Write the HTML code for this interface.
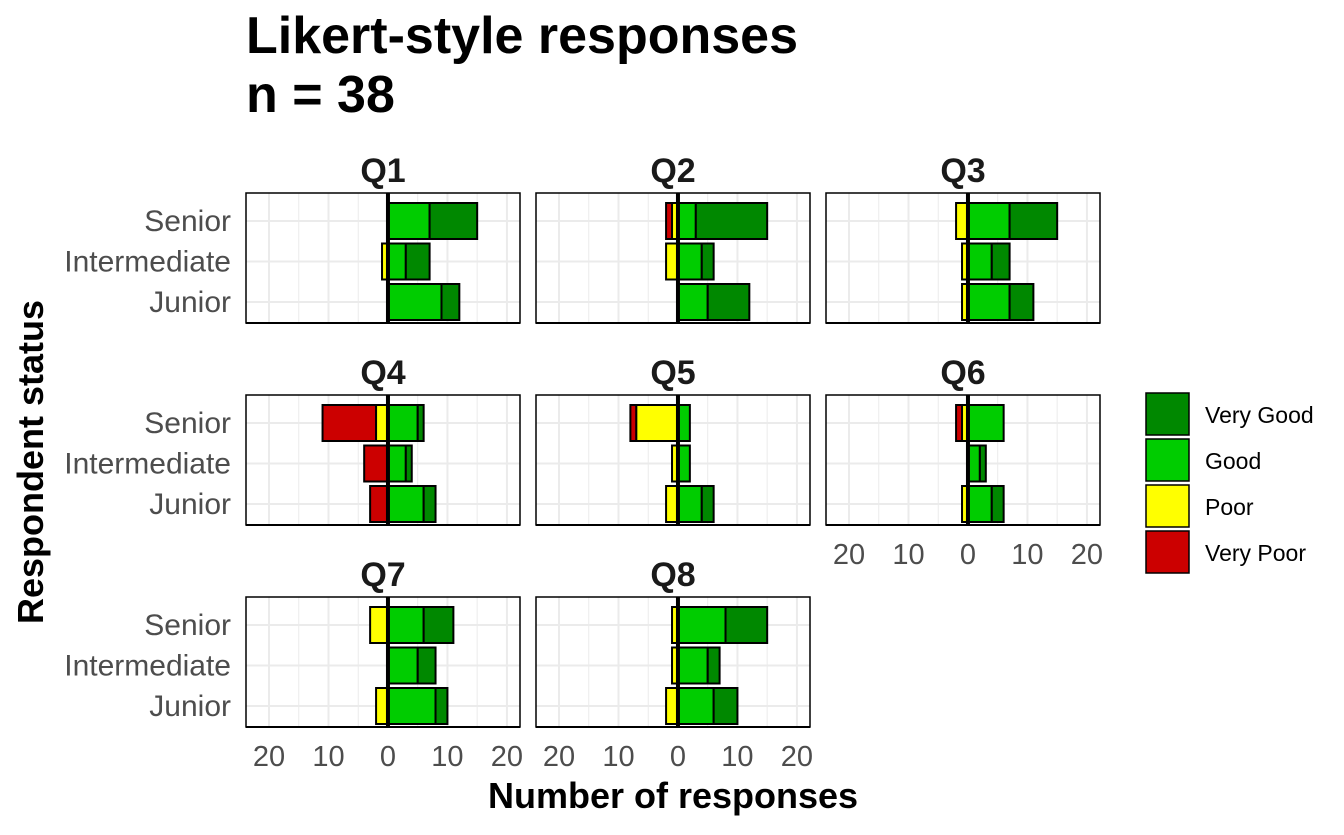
<!DOCTYPE html>
<html><head><meta charset="utf-8"><style>
body{margin:0;background:#fff;}
svg text{font-family:"Liberation Sans",Arial,sans-serif;}
</style></head><body>
<svg id="chart" width="1344" height="830" viewBox="0 0 1344 830" xmlns="http://www.w3.org/2000/svg">
<text x="246" y="53" font-size="52" font-weight="bold">Likert-style responses</text>
<text x="246" y="112" font-size="52" font-weight="bold">n = 38</text>
<text transform="translate(43,462) rotate(-90)" text-anchor="middle" font-size="36" font-weight="bold">Respondent status</text>
<text x="673" y="808" text-anchor="middle" font-size="36" font-weight="bold">Number of responses</text>
<g id="panels"></g>
<g id="legend"></g>
</svg>
<script>
const questions=["Q1","Q2","Q3","Q4","Q5","Q6","Q7","Q8"];
const groups=["Senior","Intermediate","Junior"];
const levels=["Very Poor","Poor","Good","Very Good"];
const colors=["#CC0000","#FFFF00","#00CC00","#008800"];
const tickValues=[-20,-10,0,10,20];
const tickLabels=["20","10","0","10","20"];
// [Senior, Intermediate, Junior] per question
const veryPoor=[[0,0,0],[1,0,0],[0,0,0],[9,4,3],[1,0,0],[1,0,0],[0,0,0],[0,0,0]];
const poor=[[0,1,0],[1,2,0],[2,1,1],[2,0,0],[7,1,2],[1,0,1],[3,0,2],[1,1,2]];
const good=[[7,3,9],[3,4,5],[7,4,7],[5,3,6],[2,2,4],[6,2,4],[6,5,8],[8,5,6]];
const veryGood=[[8,4,3],[12,2,7],[8,3,4],[1,1,2],[0,0,2],[0,1,2],[5,3,2],[7,2,4]];

const NS="http://www.w3.org/2000/svg";
const svg=document.getElementById('chart');
const pg=document.getElementById('panels');
function mk(tag,attrs,parent){const e=document.createElementNS(NS,tag);for(const k in attrs)e.setAttribute(k,attrs[k]);parent.appendChild(e);return e;}
const colX=[246,536,826], rowY=[193,395,597], PW=274, PH=130;
const xmin=-23.87, xmax=22.2;
function xs(col,v){return colX[col]+(v-xmin)/(xmax-xmin)*PW;}
function ys(row,i){return rowY[row]+28+i*40.5;}
questions.forEach((q,qi)=>{
  const col=qi%3,row=Math.floor(qi/3);
  const g=mk('g',{},pg);
  
  
  mk('rect',{x:colX[col],y:rowY[row],width:PW,height:PH,fill:'#fff'},g);
  [-20,-15,-10,-5,5,10,15,20].forEach(v=>{
    mk('line',{x1:xs(col,v),x2:xs(col,v),y1:rowY[row],y2:rowY[row]+PH,stroke:'#ebebeb','stroke-width':(v%10===0)?2:1},g);
  });
  groups.forEach((gr,i)=>mk('line',{x1:colX[col],x2:colX[col]+PW,y1:ys(row,i),y2:ys(row,i),stroke:'#ebebeb','stroke-width':2},g));
  const t=mk('text',{x:colX[col]+PW/2,y:rowY[row]-11,'text-anchor':'middle','font-size':34,'font-weight':'bold',fill:'#1a1a1a'},g);
  t.textContent=q;
  
  
  groups.forEach((gr,i)=>{
    const vp=veryPoor[qi][i],p=poor[qi][i],gd=good[qi][i],vg=veryGood[qi][i];
    const segs=[[-(vp+p),-p,0],[-p,0,1],[0,gd,2],[gd,gd+vg,3]];
    segs.forEach(s=>{
      if(s[1]-s[0]<=0)return;
      const r=mk('rect',{x:xs(col,s[0]),y:ys(row,i)-18,width:xs(col,s[1])-xs(col,s[0]),height:36,fill:colors[s[2]],stroke:'#000','stroke-width':2},g);
      
      
    });
  });
  mk('line',{x1:xs(col,0),x2:xs(col,0),y1:rowY[row],y2:rowY[row]+PH,stroke:'#000','stroke-width':4},g);
  mk('rect',{x:colX[col],y:rowY[row],width:PW,height:PH,fill:'none',stroke:'#000','stroke-width':1.5},g);
  mk('line',{x1:colX[col],x2:colX[col]+PW,y1:rowY[row]+PH,y2:rowY[row]+PH,stroke:'#000','stroke-width':2},g);
  if(col===0){
    groups.forEach((gr,i)=>{
      const l=mk('text',{x:231,y:ys(row,i)+10,'text-anchor':'end','font-size':30,fill:'#4d4d4d'},g);
      l.textContent=gr;
      
      
    });
  }
  const showX = row===2 || (row===1 && col===2);
  if(showX){
    tickValues.forEach((v,k)=>{
      const l=mk('text',{x:xs(col,v),y:rowY[row]+PH+39,'text-anchor':'middle','font-size':29,fill:'#4d4d4d'},g);
      l.textContent=tickLabels[k];
      
      
    });
  }
});
const lg=document.getElementById('legend');


["Very Good","Good","Poor","Very Poor"].forEach((lv,i)=>{
  const ci=levels.indexOf(lv);
  const y=393+i*46;
  const r=mk('rect',{x:1146,y:y,width:43,height:42,fill:colors[ci],stroke:'#000','stroke-width':1.5},lg);
  
  
  const t=mk('text',{x:1205,y:y+30,'font-size':23,fill:'#000'},lg);
  t.textContent=lv;
  
  
});
</script>
</body></html>
